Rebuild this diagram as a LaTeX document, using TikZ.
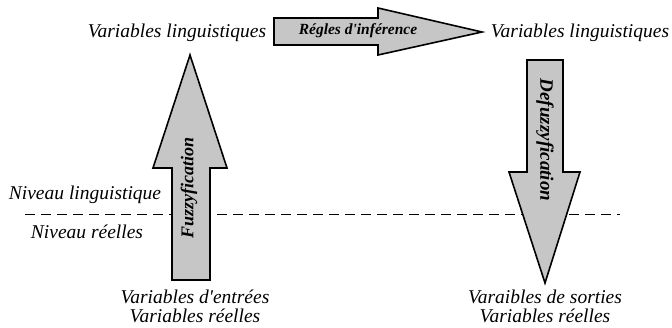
\documentclass[tikz,border=0pt]{standalone}
\usepackage{fontspec}
\setmainfont{Liberation Serif}[Ligatures=TeXOff]
\begin{document}
\begin{tikzpicture}[x=1pt,y=-1pt,
  lbl/.style={font=\fontsize{19.5}{19}\selectfont\itshape, inner sep=0pt},
  albl/.style={font=\fontsize{15.5}{17}\selectfont\bfseries\itshape, inner sep=0pt},
  arr/.style={draw=black, line width=1.6pt, fill=gray!45, line join=miter}]
\useasboundingbox (0,0) rectangle (672,327);
% dashed level line
\coordinate (dl) at (25,214);
\coordinate (dr) at (620,214);
\draw[line width=0.8pt, dash pattern=on 10pt off 6pt] (dl) -- (dr);
% arrows
\draw[arr] (172,280) -- (172,168) -- (153,168) -- (190,55) -- (227,168) -- (210,168) -- (210,280) -- cycle;
\draw[arr] (527,60) -- (563,60) -- (563,172) -- (580,172) -- (545,283) -- (509,172) -- (527,172) -- cycle;
\draw[arr] (274,18) -- (378,18) -- (378,8) -- (482,32) -- (378,55) -- (378,45) -- (274,45) -- cycle;
% arrow labels
\node[albl] (inf) at (358,31) {Régles d'inférence};
\node[albl, font=\fontsize{18}{20}\selectfont\bfseries\itshape, rotate=90] (fuz) at (189,188) {Fuzzyfication};
\node[albl, font=\fontsize{19}{20}\selectfont\bfseries\itshape, rotate=-90] (def) at (545,140) {Defuzzyfication};
% texts
\node[lbl] (vl1) at (177,33) {Variables linguistiques};
\node[lbl] (vl2) at (580,33) {Variables linguistiques};
\node[lbl] (nl) at (85,195) {Niveau linguistique};
\node[lbl] (nr) at (87,232) {Niveau réelles};
\node[lbl, align=center] (ve) at (195,306) {Variables d'entrées\\Variables réelles};
\node[lbl, align=center] (vs) at (545,306) {Varaibles de sorties\\Variables réelles};
\end{tikzpicture}
\end{document}
